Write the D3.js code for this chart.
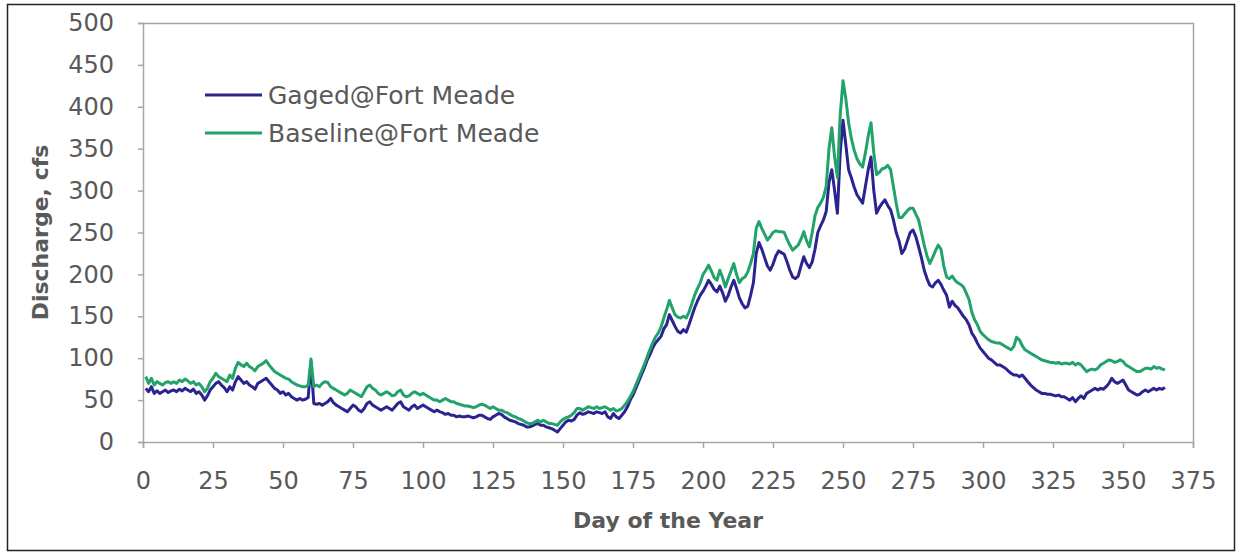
<!DOCTYPE html>
<html>
<head>
<meta charset="utf-8">
<script src="https://cdn.jsdelivr.net/npm/d3@7"></script>
<style>
  html, body { margin: 0; padding: 0; background: #fff; }
  svg { display: block; }
</style>
</head>
<body>
<svg id="chart" width="1241" height="552"></svg>
<script>
// Daily discharge (cfs), day 1 .. 365
const gaged = [
  64, 60, 66, 58, 61, 58, 60, 62, 59, 61,
  62, 60, 63, 61, 64, 62, 60, 63, 58, 60,
  56, 50, 55, 62, 66, 70, 72, 68, 65, 60,
  66, 62, 72, 78, 74, 70, 72, 68, 66, 63,
  70, 72, 74, 76, 72, 68, 64, 62, 58, 60,
  56, 58, 54, 52, 50, 52, 50, 51, 53, 96,
  46, 45, 46, 44, 46, 48, 52, 47, 44, 42,
  40, 38, 36, 40, 44, 42, 38, 36, 40, 46,
  48, 44, 42, 40, 38, 40, 42, 40, 38, 42,
  46, 48, 42, 40, 38, 42, 44, 40, 42, 44,
  42, 40, 38, 36, 38, 36, 35, 33, 34, 32,
  32, 30, 31, 30, 30, 31, 30, 29, 30, 32,
  32, 30, 28, 27, 30, 32, 34, 33, 30, 28,
  26, 25, 24, 22, 21, 20, 18, 18, 19, 21,
  22, 20, 20, 18, 17, 16, 14, 12, 16, 20,
  24, 26, 25, 27, 32, 35, 33, 34, 36, 35,
  34, 36, 35, 34, 36, 30, 28, 34, 30, 28,
  32, 36, 42, 50, 56, 64, 72, 80, 88, 97,
  104, 112, 118, 122, 126, 135, 140, 152, 145, 138,
  132, 130, 134, 131, 140, 150, 160, 168, 175, 180,
  186, 193, 188, 182, 179, 186, 178, 168, 175, 185,
  193, 183, 172, 165, 160, 162, 175, 190, 225, 238,
  230, 220, 210, 205, 212, 222, 228, 226, 224, 215,
  205, 197, 195, 198, 210, 221, 213, 208, 215, 230,
  250, 258, 265, 275, 310, 325, 300, 273, 345, 384,
  355, 325, 315, 304, 295, 290, 285, 305, 325, 340,
  300, 273, 280, 285, 289, 282, 277, 265, 250, 240,
  225, 230, 240, 250, 253, 245, 233, 220, 205, 195,
  187, 185, 190, 193, 188, 181, 175, 161, 168, 163,
  160, 155, 150, 146, 140, 130, 125, 118, 112, 108,
  104, 100, 98, 95, 92, 92, 90, 88, 85, 82,
  80, 80, 78, 80, 76, 72, 68, 65, 62, 60,
  58, 58, 57, 57, 56, 55, 56, 54, 54, 52,
  50, 53, 48, 52, 55, 52, 58, 60, 62, 64,
  62, 64, 63, 66, 70, 76, 72, 70, 72, 74,
  68, 62, 60, 58, 56, 57, 60, 62, 60, 62,
  64, 62, 64, 63, 65
];

const baseline = [
  78, 70, 76, 68, 72, 70, 68, 71, 72, 70,
  72, 70, 74, 72, 75, 73, 70, 72, 68, 70,
  66, 60, 64, 72, 76, 82, 78, 76, 74, 72,
  80, 76, 88, 95, 92, 90, 94, 90, 88, 85,
  90, 92, 94, 97, 92, 88, 84, 82, 80, 78,
  76, 75, 72, 70, 68, 67, 66, 66, 68, 99,
  66, 68, 66, 70, 72, 71, 66, 64, 62, 60,
  58, 56, 58, 62, 60, 58, 56, 54, 60, 66,
  68, 64, 62, 58, 56, 58, 60, 58, 55, 56,
  60, 62, 56, 54, 55, 58, 60, 58, 56, 58,
  56, 54, 52, 50, 50, 48, 50, 52, 50, 48,
  48, 46, 45, 44, 43, 43, 42, 41, 42, 44,
  45, 44, 42, 40, 42, 40, 38, 38, 36, 35,
  33, 31, 30, 28, 27, 25, 23, 22, 22, 24,
  26, 24, 26, 24, 22, 22, 21, 20, 24, 27,
  29, 30, 32, 35, 40, 40, 38, 40, 42, 41,
  40, 42, 40, 41, 42, 40, 38, 40, 37, 38,
  40, 44, 48, 54, 60, 68, 76, 84, 92, 101,
  110, 118, 125, 130, 137, 148, 158, 169, 160, 152,
  149, 148, 150, 148, 155, 165, 175, 183, 190, 200,
  205, 211, 204, 196, 193, 205, 196, 185, 195, 204,
  213, 200, 190, 195, 197, 203, 213, 225, 255, 263,
  255, 248, 241, 245, 250, 252, 251, 251, 250, 242,
  235, 229, 232, 235, 242, 251, 240, 233, 250, 270,
  280, 285, 292, 305, 350, 375, 340, 316, 390, 431,
  410, 381, 362, 348, 338, 332, 328, 345, 365, 381,
  345, 319, 322, 326, 327, 330, 325, 305, 285, 268,
  268, 272, 276, 279, 279, 272, 265, 250, 235, 222,
  213, 220, 228, 235, 230, 210, 197, 195, 198, 193,
  190, 188, 185, 178, 170, 155, 146, 140, 132, 128,
  125, 122, 120, 119, 118, 118, 116, 114, 112, 110,
  114, 125, 122, 115, 110, 108, 106, 104, 102, 100,
  98, 97, 96, 95, 95, 94, 95, 93, 94, 94,
  93, 95, 92, 94, 92, 88, 84, 86, 87, 86,
  88, 92, 94, 96, 98, 97, 95, 96, 98, 96,
  92, 90, 88, 86, 84, 84, 86, 88, 88, 87,
  90, 88, 89, 87, 86
];

const xTicks = [0, 25, 50, 75, 100, 125, 150, 175, 200, 225, 250, 275, 300, 325, 350, 375];
const yTicks = [0, 50, 100, 150, 200, 250, 300, 350, 400, 450, 500];
const seriesNames = ["Gaged@Fort Meade", "Baseline@Fort Meade"];
const seriesColors = ["#2a2390", "#22a36c"];

const days = d3.range(1, gaged.length + 1);

const svg = d3.select("#chart");
const W = 1241, H = 552;
const plot = { left: 143, right: 1193, top: 23, bottom: 442 };

const x = d3.scaleLinear().domain([0, 375]).range([plot.left, plot.right]);
const y = d3.scaleLinear().domain([0, 500]).range([plot.bottom, plot.top]);

const font = "'DejaVu Sans', 'Liberation Sans', Arial, sans-serif";
const textColor = "#595959";
const axisColor = "#a6a6a6";

// page background and outer frame
svg.append("rect").attr("width", W).attr("height", H).attr("fill", "#fff");
svg.append("rect")
  .attr("x", 7.5).attr("y", 4.5)
  .attr("width", 1227).attr("height", 546)
  .attr("fill", "none").attr("stroke", "#222").attr("stroke-width", 1.5);

// plot area outline (top and right edges)
svg.append("path")
  .attr("d", `M${plot.left},${plot.top + 0.5}H${plot.right + 0.5}V${plot.bottom}`)
  .attr("fill", "none").attr("stroke", axisColor).attr("stroke-width", 1.5);

// x axis
const xAxis = svg.append("g")
  .attr("transform", `translate(0,${plot.bottom})`)
  .call(d3.axisBottom(x).tickValues(xTicks).tickSize(6).tickPadding(24));
// y axis
const yAxis = svg.append("g")
  .attr("transform", `translate(${plot.left},0)`)
  .call(d3.axisLeft(y).tickValues(yTicks).tickSize(5).tickPadding(24));

[xAxis, yAxis].forEach(g => {
  g.select(".domain").attr("stroke", axisColor).attr("stroke-width", 1.5);
  g.selectAll(".tick line").attr("stroke", axisColor).attr("stroke-width", 1.5);
  g.selectAll(".tick text")
    .attr("fill", textColor)
    .style("font-family", font)
    .style("font-size", "24px");
});
xAxis.selectAll(".tick text").attr("dy", "0.71em");

// series lines
const line = d3.line()
  .x((d, i) => x(days[i]))
  .y(d => y(d))
  .curve(d3.curveLinear);

[gaged, baseline].forEach((vals, k) => {
  svg.append("path")
    .datum(vals)
    .attr("d", line)
    .attr("fill", "none")
    .attr("stroke", seriesColors[k])
    .attr("stroke-width", 3)
    .attr("stroke-linejoin", "round");
});

// legend
const legend = svg.append("g");
seriesNames.forEach((name, k) => {
  const ly = 95 + k * 38;
  legend.append("line")
    .attr("x1", 205).attr("x2", 262)
    .attr("y1", ly).attr("y2", ly)
    .attr("stroke", seriesColors[k]).attr("stroke-width", 3);
  legend.append("text")
    .attr("x", 268).attr("y", ly)
    .attr("dy", "0.35em")
    .attr("fill", textColor)
    .style("font-family", font)
    .style("font-size", "25px")
    .text(name);
});

// axis titles
svg.append("text")
  .attr("x", (plot.left + plot.right) / 2)
  .attr("y", 528)
  .attr("text-anchor", "middle")
  .attr("fill", textColor)
  .style("font-family", font)
  .style("font-size", "22px")
  .style("font-weight", "bold")
  .text("Day of the Year");

svg.append("text")
  .attr("transform", `translate(48,${(plot.top + plot.bottom) / 2}) rotate(-90)`)
  .attr("text-anchor", "middle")
  .attr("fill", textColor)
  .style("font-family", font)
  .style("font-size", "22px")
  .style("font-weight", "bold")
  .text("Discharge, cfs");
</script>
</body>
</html>
